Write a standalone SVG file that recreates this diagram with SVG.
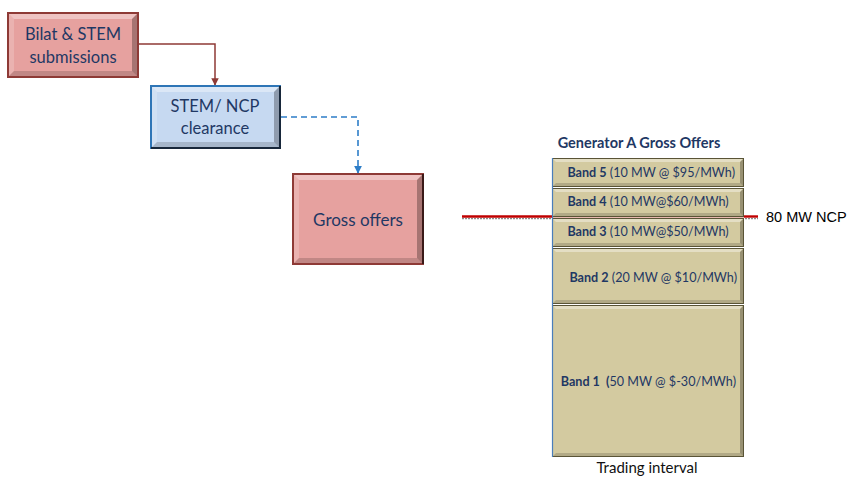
<svg xmlns="http://www.w3.org/2000/svg" width="850" height="477" viewBox="0 0 850 477">
  <style>
    .lbl { font-family: Lato, "Open Sans", "Liberation Sans", sans-serif; fill: #1f3864; text-anchor: middle; }
    .node-text { font-size: 16.5px; }
    .band-text { font-family: Lato, "Open Sans", "Liberation Sans", sans-serif; font-size: 12.6px; fill: #1f3864; white-space: pre; }
    .band-text .b { font-weight: bold; }
    .hi { fill: #ffffff; opacity: 0.38; }
    .hi2 { fill: #ffffff; opacity: 0.18; }
    .sh { fill: #000000; opacity: 0.28; }
    .sh2 { fill: #000000; opacity: 0.16; }
    .pink { fill: #e6a19f; stroke: #8e3a36; stroke-width: 2; }
    .blue { fill: #c6d9f1; stroke: #2e75b6; stroke-width: 2; }
    .band { fill: #d3caa0; }
    .band-edge { fill: none; stroke: #5a5436; stroke-width: 1; }
    .plain { font-family: "Liberation Sans", Arial, sans-serif; fill: #000000; }
  </style>
  <defs>
    <marker id="arrRed" viewBox="0 0 10 10" refX="9" refY="5" markerWidth="5" markerHeight="5" orient="auto">
      <path d="M0,0 L10,5 L0,10 z" fill="#8e3a36"/>
    </marker>
    <marker id="arrBlue" viewBox="0 0 10 10" refX="9" refY="5" markerWidth="5" markerHeight="5" orient="auto">
      <path d="M0,0 L10,5 L0,10 z" fill="#2e7ec8"/>
    </marker>
  </defs>

  <rect width="850" height="477" fill="#ffffff"/>

  <!-- connectors -->
  <g id="connectors">
    <path d="M138,44 H215 V85" fill="none" stroke="#8e3a36" stroke-width="1.5" marker-end="url(#arrRed)"/>
    <path d="M281,117 H358 V173" fill="none" stroke="#2e7ec8" stroke-width="1.6" stroke-dasharray="6,4" marker-end="url(#arrBlue)"/>
  </g>

  <!-- Bilat & STEM submissions -->
  <g id="bilat">
    <rect class="pink" x="8" y="13" width="130" height="64"/>
    <polygon class="hi" points="9,14 137,14 132,19 14,19"/>
    <polygon class="hi2" points="9,14 14,19 14,71 9,76"/>
    <polygon class="sh" points="137,14 137,76 132,71 132,19"/>
    <polygon class="sh2" points="9,76 137,76 132,71 14,71"/>
    <text class="lbl node-text" x="73" y="40">Bilat &amp; STEM</text>
    <text class="lbl node-text" x="73" y="63">submissions</text>
  </g>

  <!-- STEM/ NCP clearance -->
  <g id="clearance">
    <rect class="blue" x="151" y="86" width="129" height="62"/>
    <polygon class="hi" points="152,87 279,87 274,92 157,92"/>
    <polygon class="hi2" points="152,87 157,92 157,142 152,147"/>
    <polygon class="sh" points="279,87 279,147 274,142 274,92"/>
    <polygon class="sh2" points="152,147 279,147 274,142 157,142"/>
    <path d="M280,86 V148 H151" fill="none" stroke="#17273a" stroke-width="2"/>
    <text class="lbl node-text" x="215" y="112">STEM/ NCP</text>
    <text class="lbl node-text" x="215" y="134">clearance</text>
  </g>

  <!-- Gross offers -->
  <g id="gross">
    <rect class="pink" x="293" y="174" width="130" height="90"/>
    <polygon class="hi" points="294,175 422,175 417,180 299,180"/>
    <polygon class="hi2" points="294,175 299,180 299,258 294,263"/>
    <polygon class="sh" points="422,175 422,263 417,258 417,180"/>
    <polygon class="sh2" points="294,263 422,263 417,258 299,258"/>
    <path d="M423,174 V264" fill="none" stroke="#3a1a18" stroke-width="2"/>
    <text class="lbl" x="358" y="226" font-size="17">Gross offers</text>
  </g>

  <!-- NCP level line -->
  <g id="ncp-line">
    <line x1="462" y1="218.6" x2="552" y2="218.6" stroke="#8a8a8a" stroke-width="1.2" stroke-dasharray="2,1"/>
    <line x1="462" y1="216.5" x2="552" y2="216.5" stroke="#c00000" stroke-width="2.4"/>
    <line x1="742" y1="218.6" x2="758" y2="218.6" stroke="#8a8a8a" stroke-width="1.2" stroke-dasharray="2,1"/>
    <line x1="742" y1="216.5" x2="758" y2="216.5" stroke="#c00000" stroke-width="2.4"/>
    <text class="plain" x="766" y="222" font-size="14.5">80 MW NCP</text>
  </g>

  <!-- Generator A offer stack -->
  <g id="offer-stack">
    <text class="lbl" x="639" y="148" font-size="14.5" font-weight="bold">Generator A Gross Offers</text>

    <g id="band5">
      <rect class="band" x="552" y="158" width="192" height="29"/>
      <polygon class="hi" points="552,158 744,158 740,162 556,162"/>
      <polygon class="sh" points="744,158 744,187 740,183 740,162"/>
      <polygon class="sh2" points="552,187 744,187 740,183 556,183"/>
      <rect class="band-edge" x="552.5" y="158.5" width="191" height="28"/>
      <text class="band-text" x="735" y="177" text-anchor="end"><tspan class="b">Band 5</tspan> (10 MW @ $95/MWh)</text>
    </g>

    <g id="band4">
      <rect class="band" x="552" y="188" width="192" height="29"/>
      <polygon class="hi" points="552,188 744,188 740,192 556,192"/>
      <polygon class="sh" points="744,188 744,217 740,213 740,192"/>
      <polygon class="sh2" points="552,217 744,217 740,213 556,213"/>
      <rect class="band-edge" x="552.5" y="188.5" width="191" height="28"/>
      <text class="band-text" x="648" y="206" text-anchor="middle"><tspan class="b">Band 4</tspan> (10 MW@$60/MWh)</text>
    </g>

    <g id="band3">
      <rect class="band" x="552" y="218" width="192" height="29"/>
      <polygon class="hi" points="552,218 744,218 740,222 556,222"/>
      <polygon class="sh" points="744,218 744,247 740,243 740,222"/>
      <polygon class="sh2" points="552,247 744,247 740,243 556,243"/>
      <rect class="band-edge" x="552.5" y="218.5" width="191" height="28"/>
      <text class="band-text" x="648" y="236" text-anchor="middle"><tspan class="b">Band 3</tspan> (10 MW@$50/MWh)</text>
    </g>

    <g id="band2">
      <rect class="band" x="552" y="248" width="192" height="56"/>
      <polygon class="hi" points="552,248 744,248 740,252 556,252"/>
      <polygon class="sh" points="744,248 744,304 740,300 740,252"/>
      <polygon class="sh2" points="552,304 744,304 740,300 556,300"/>
      <rect class="band-edge" x="552.5" y="248.5" width="191" height="55"/>
      <text class="band-text" x="737" y="282" text-anchor="end"><tspan class="b">Band 2</tspan> (20 MW @ $10/MWh)</text>
    </g>

    <g id="band1">
      <rect class="band" x="552" y="305" width="192" height="152"/>
      <polygon class="hi" points="552,305 744,305 740,309 556,309"/>
      <polygon class="sh" points="744,305 744,457 740,453 740,309"/>
      <polygon class="sh2" points="552,457 744,457 740,453 556,453"/>
      <rect class="band-edge" x="552.5" y="305.5" width="191" height="151"/>
      <text class="band-text" x="736" y="386" text-anchor="end"><tspan class="b">Band 1  (</tspan>50 MW @ $-30/MWh)</text>
    </g>

    <line x1="552" y1="217.5" x2="744" y2="217.5" stroke="#e8b9b0" stroke-width="1"/>
    <line x1="552.5" y1="158" x2="552.5" y2="457" stroke="#4a7ebb" stroke-width="1.2"/>

    <text class="lbl" x="647" y="473" font-size="15" style="fill:#111111">Trading interval</text>
  </g>
</svg>
